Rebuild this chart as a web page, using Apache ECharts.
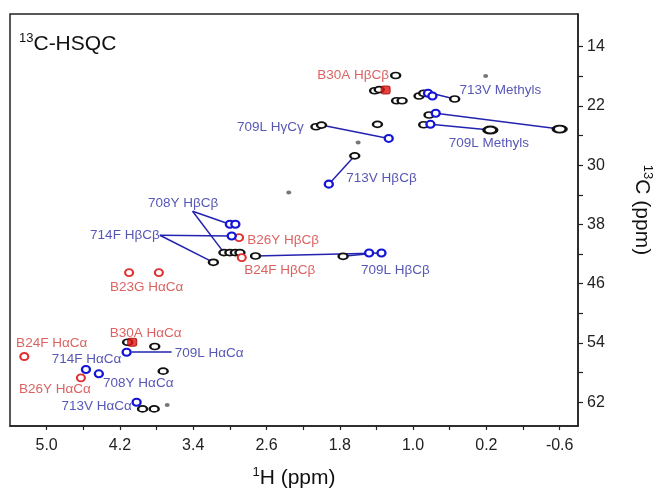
<!DOCTYPE html>
<html>
<head>
<meta charset="utf-8">
<script src="https://cdn.jsdelivr.net/npm/echarts@6/dist/echarts.min.js"></script>
<style>
  html, body { margin: 0; padding: 0; background: #fff; }
  #chart { width: 657px; height: 495px; }
</style>
</head>
<body>
<div id="chart"></div>
<script>
// tick values (ppm)
const xTicks = [5.0, 4.6, 4.2, 3.8, 3.4, 3.0, 2.6, 2.2, 1.8, 1.4, 1.0, 0.6, 0.2, -0.2, -0.6];
const xLabels = [5.0, 4.2, 3.4, 2.6, 1.8, 1.0, 0.2, -0.6];
const yTicks = [14, 18, 22, 26, 30, 34, 38, 42, 46, 50, 54, 58, 62];
const yLabels = [14, 22, 30, 38, 46, 54, 62];

// peaks [1H, 13C]
const blackPeaks = [
  [1.19, 17.9], [1.42, 19.95], [1.37, 19.8], [1.18, 21.3], [1.12, 21.3],
  [0.935, 20.67], [0.884, 20.3], [0.546, 21.07],
  [0.826, 23.23], [0.884, 24.55],
  [2.06, 24.82], [2.0, 24.59], [1.389, 24.49],
  [1.637, 28.74],
  [3.065, 41.8], [3.0, 41.8], [2.94, 41.8], [2.89, 41.8],
  [3.18, 43.11], [2.72, 42.26], [1.764, 42.3],
  [4.116, 53.89], [3.82, 54.47], [3.728, 57.8],
  [3.953, 62.89], [3.826, 62.89]
];
const blackLarge = [[0.157, 25.26], [-0.60, 25.13]];
const blackDots = [[0.208, 17.96], [1.60, 26.93], [2.357, 33.69], [3.684, 62.35]];
const bluePeaks = [
  [0.837, 20.3], [0.789, 20.67], [0.753, 23.0], [0.811, 24.49],
  [1.266, 26.39], [1.92, 32.56],
  [3.0, 37.97], [2.94, 37.97], [2.98, 39.55],
  [1.48, 41.85], [1.345, 41.85],
  [4.127, 55.24], [4.571, 57.58], [4.43, 58.16], [4.018, 62.0]
];
const redPeaks = [
  [2.90, 39.77], [2.87, 42.47], [4.10, 44.5], [3.775, 44.5], [5.244, 55.82], [4.626, 58.7]
];
const redStrong = [[1.30, 19.86], [4.066, 53.89]];

// assignment labels [1H, 13C, text]
const blueLabels = [
  [0.047, 19.95, '713V Methyls'],
  [2.559, 24.86, '709L HγCγ'],
  [0.172, 27.06, '709L Methyls'],
  [1.345, 31.79, '713V HβCβ'],
  [3.51, 35.17, '708Y HβCβ'],
  [4.146, 39.46, '714F HβCβ'],
  [1.193, 44.19, '709L HβCβ'],
  [4.564, 56.2, '714F HαCα'],
  [3.226, 55.45, '709L HαCα'],
  [4.0, 59.43, '708Y HαCα'],
  [4.455, 62.58, '713V HαCα']
];
const redLabels = [
  [1.655, 17.92, 'B30A HβCβ'],
  [2.419, 40.14, 'B26Y HβCβ'],
  [2.455, 44.19, 'B24F HβCβ'],
  [3.909, 46.45, 'B23G HαCα'],
  [3.92, 52.75, 'B30A HαCα'],
  [4.945, 54.1, 'B24F HαCα'],
  [4.91, 60.19, 'B26Y HαCα']
];

// leader lines
const leaders = [
  [[0.80, 20.3], [0.546, 21.07]],
  [[0.753, 23.0], [-0.60, 25.13]],
  [[0.811, 24.49], [0.157, 25.26]],
  [[1.95, 24.7], [1.266, 26.39]],
  [[1.92, 32.56], [1.637, 28.74]],
  [[3.407, 36.21], [3.0, 37.97]],
  [[3.407, 36.21], [3.065, 41.8]],
  [[3.764, 39.46], [2.98, 39.55]],
  [[3.764, 39.46], [3.18, 43.11]],
  [[2.72, 42.26], [1.345, 41.85]],
  [[1.764, 42.3], [1.48, 41.95]],
  [[4.073, 55.24], [3.636, 55.24]]
];

const FONT = "'Liberation Sans', Arial, sans-serif";
const BLUE_TXT = '#2c2ca4';
const RED_TXT = '#d43a3a';

const chart = echarts.init(document.getElementById('chart'));

function ring(data, color, size, bw) {
  return {
    type: 'scatter', data: data, symbol: 'circle', symbolSize: size,
    itemStyle: { color: '#fff', borderColor: color, borderWidth: bw, opacity: 1 },
    z: 3, silent: true
  };
}
function labels(data, color) {
  return {
    type: 'scatter', data: data, symbolSize: 0, z: 5, silent: true,
    label: {
      show: true, position: 'inside', color: color,
      fontFamily: FONT, fontSize: 13.5,
      formatter: p => p.value[2]
    }
  };
}
function supText(big) {
  return {
    rich: {
      s: { fontSize: 13, fontFamily: FONT, fontWeight: 'normal', color: '#111', verticalAlign: 'top', lineHeight: 12 },
      t: { fontSize: big, fontFamily: FONT, fontWeight: 'normal', color: '#111', lineHeight: 24 }
    }
  };
}

const option = {
  animation: false,
  title: {
    text: '{s|13}{t|C-HSQC}',
    left: 14, top: 27,
    textStyle: Object.assign({ fontWeight: 'normal' }, supText(21))
  },
  grid: {
    left: 10, right: 79, top: 14, bottom: 69,
    show: true, borderColor: '#222', borderWidth: 1.5,
    outerBoundsMode: 'none'
  },
  xAxis: {
    type: 'value', inverse: true, min: -0.8, max: 5.4,
    position: 'bottom',
    axisLine: { show: true, onZero: false, lineStyle: { color: '#222', width: 1.5 } },
    axisTick: { show: true, length: 4, customValues: xTicks, lineStyle: { color: '#222', width: 1.2 } },
    axisLabel: {
      customValues: xLabels, margin: 12, color: '#222',
      fontFamily: FONT, fontSize: 16,
      formatter: v => v.toFixed(1)
    },
    splitLine: { show: false },
    name: '{s|1}{t|H (ppm)}', nameLocation: 'middle', nameGap: 40,
    nameTextStyle: supText(21)
  },
  yAxis: {
    type: 'value', inverse: true, min: 9.6, max: 65.2,
    position: 'right',
    axisLine: { show: true, onZero: false, lineStyle: { color: '#222', width: 1.5 } },
    axisTick: { show: true, length: 5, customValues: yTicks, lineStyle: { color: '#222', width: 1.2 } },
    axisLabel: {
      customValues: yLabels, margin: 9, color: '#222',
      fontFamily: FONT, fontSize: 16
    },
    splitLine: { show: false },
    name: '{s|13}{t|C (ppm)}', nameLocation: 'middle', nameRotate: -90, nameGap: 52,
    nameTextStyle: Object.assign({ padding: [0, 20, 0, 0] }, supText(21))
  },
  series: [
    {
      type: 'lines', coordinateSystem: 'cartesian2d', z: 2, silent: true,
      data: leaders.map(c => ({ coords: c })),
      lineStyle: { color: '#2323b0', width: 1.5, opacity: 1 }
    },
    ring(blackPeaks, '#111', [9, 6], 2),
    ring(blackLarge, '#111', [13, 7], 2.5),
    {
      type: 'scatter', data: blackDots, symbol: 'circle', symbolSize: [5, 4], z: 3, silent: true,
      itemStyle: { color: '#555' }
    },
    ring(redPeaks, '#e03030', [8, 7], 2),
    ring(bluePeaks, '#1414d8', [8, 7], 2.2),
    {
      type: 'scatter', data: redStrong, symbol: 'roundRect', symbolSize: [9, 8], z: 4, silent: true,
      itemStyle: { color: '#e01414', borderColor: '#a00', borderWidth: 1 }
    },
    labels(blueLabels, BLUE_TXT),
    labels(redLabels, RED_TXT)
  ]
};

chart.setOption(option);
</script>
</body>
</html>
